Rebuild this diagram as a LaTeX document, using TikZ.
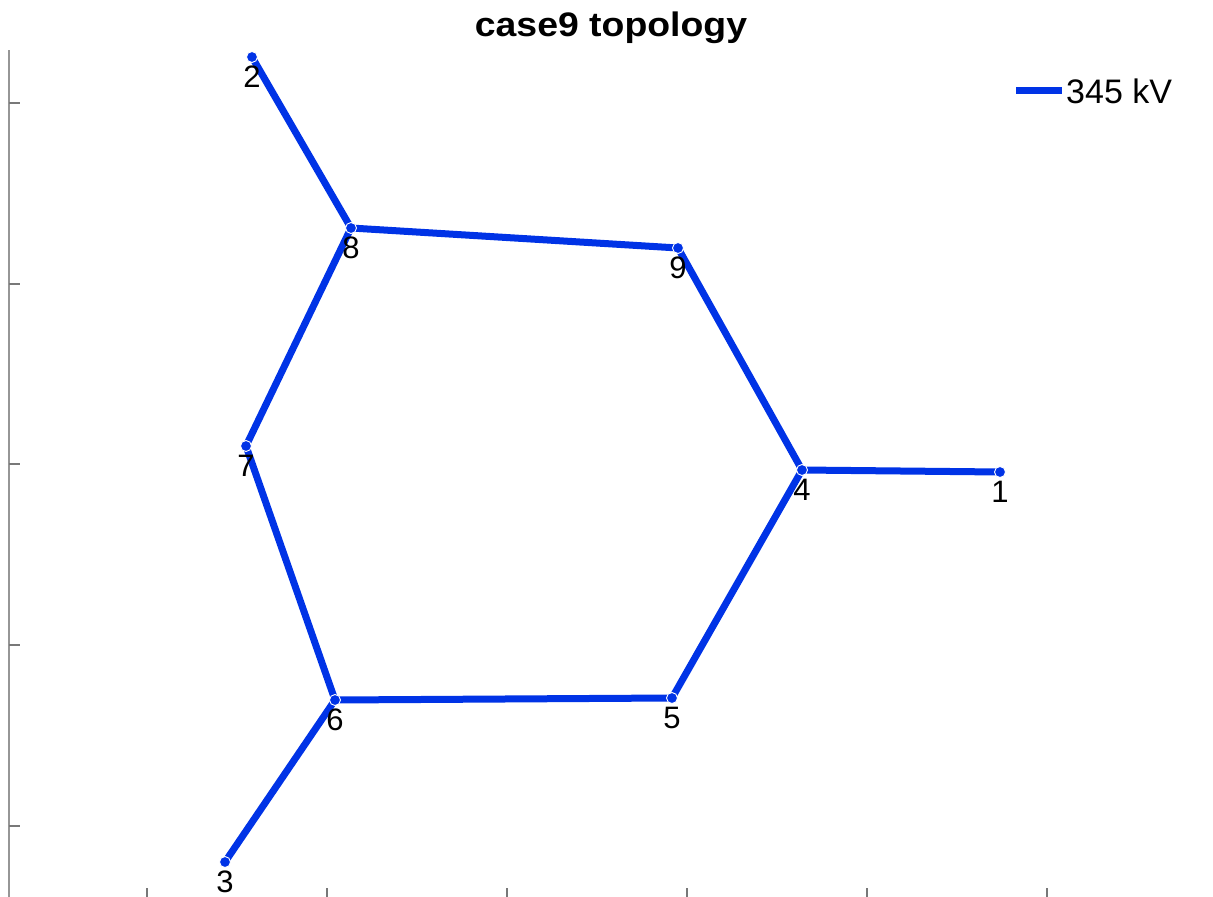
\documentclass[tikz,border=0pt]{standalone}
\usepackage{fontspec}
\setmainfont{Liberation Sans}
\definecolor{lineblue}{RGB}{0,51,230}
\definecolor{axgray}{RGB}{150,150,150}
\tikzset{
  branch/.style={draw=lineblue, line width=7pt},
  bus/.style={circle, fill=lineblue, draw=white, line width=0.9pt, inner sep=0pt, minimum size=11pt},
  buslabel/.style={anchor=base, inner sep=0pt, font=\fontsize{31}{33}\selectfont},
  axisline/.style={draw=axgray, line width=1.5pt},
  tick/.style={draw=axgray!80!black, line width=1.2pt}
}
\begin{document}
\begin{tikzpicture}[x=1pt, y=-1pt]
\useasboundingbox (0,0) rectangle (1213,897);
% axes
\coordinate (ax0) at (9,50);
\coordinate (ax1) at (9,897);
\draw[axisline] (ax0) -- (ax1);
\foreach \yy in {103,284,464,645,826} {
  \draw[tick] (9,\yy) -- (20,\yy);
}
\foreach \xx in {147,327,507,687,867,1047} {
  \draw[tick] (\xx,897) -- (\xx,888);
}
% title
\node[anchor=base, inner sep=0pt, font=\fontsize{34}{36}\selectfont\bfseries] (title) at (611,36) {\scalebox{1.1}[1]{case9 topology}};
% buses
\coordinate (p1) at (1000,472);
\coordinate (p2) at (252,57);
\coordinate (p3) at (225,862);
\coordinate (p4) at (802,470);
\coordinate (p5) at (672,698);
\coordinate (p6) at (335,700);
\coordinate (p7) at (246,446);
\coordinate (p8) at (351,228);
\coordinate (p9) at (678,248);
% branches
\draw[branch] (p1) -- (p4);
\draw[branch] (p4) -- (p5);
\draw[branch] (p5) -- (p6);
\draw[branch] (p6) -- (p3);
\draw[branch] (p6) -- (p7);
\draw[branch] (p7) -- (p8);
\draw[branch] (p8) -- (p2);
\draw[branch] (p8) -- (p9);
\draw[branch] (p9) -- (p4);
% bus dots and labels
\foreach \n in {1,...,9} {
  \node[bus] (b\n) at (p\n) {};
  \node[buslabel] (l\n) at ([yshift=-30pt]p\n) {\n};
}
% legend
\coordinate (lg0) at (1016,90);
\coordinate (lg1) at (1062,90);
\draw[branch] (lg0) -- (lg1);
\node[anchor=base west, inner sep=0pt, font=\fontsize{34}{36}\selectfont] (legtext) at (1066,103) {345 kV};
\end{tikzpicture}
\end{document}
